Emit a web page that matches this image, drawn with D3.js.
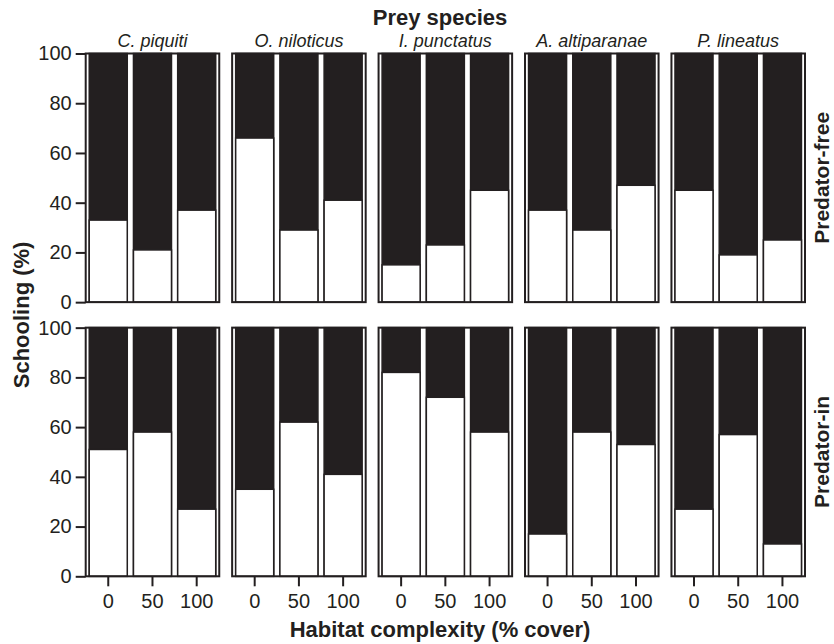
<!DOCTYPE html>
<html>
<head>
<meta charset="utf-8">
<script src="https://cdn.jsdelivr.net/npm/d3@7"></script>
<style>
    body { margin: 0; background: #fff; }
    svg text { font-family: "Liberation Sans", Arial, Helvetica, sans-serif; fill: #231f20; }
</style>
</head>
<body>
<div id="chart"></div>
<script>
// chart values
var species = ["C. piquiti", "O. niloticus", "I. punctatus", "A. altiparanae", "P. lineatus"];
var habitat = ["0", "50", "100"];
var treatments = ["Predator-free", "Predator-in"];
var yTicks = [0, 20, 40, 60, 80, 100];

// % schooling for cover 0, 50, 100 in each species
var predatorFree = [[33, 21, 37], [66, 29, 41], [15, 23, 45], [37, 29, 47], [45, 19, 25]];
var predatorIn = [[51, 58, 27], [35, 62, 41], [82, 72, 58], [17, 58, 53], [27, 57, 13]];

class SchoolingChart {
    constructor(div) {
        var viz = this;

        viz.div = d3.select(div);
        viz.width = 834;
        viz.height = 644;
        viz.ink = "#231f20";

        viz.svg = viz.div.append("svg")
            .attr("width", viz.width)
            .attr("height", viz.height);

        // one band per species column, one per treatment row
        viz.colScale = d3.scaleBand().domain(species).range([85.7, 805]).paddingInner(0.088);
        viz.rowScale = d3.scaleBand().domain(treatments).range([53.5, 576.3]).paddingInner(0.093);

        viz.xScale = d3.scaleBand().domain(habitat)
            .range([0, viz.colScale.bandwidth()])
            .paddingInner(0.14).paddingOuter(0.08);
        viz.yScale = d3.scaleLinear().domain([0, 100]).range([viz.rowScale.bandwidth(), 0]);

        viz.values = { "Predator-free": predatorFree, "Predator-in": predatorIn };

        viz.draw();
    }

    draw() {
        var viz = this;

        treatments.forEach(function(t) {
            species.forEach(function(s, i) {
                viz.drawPanel(viz, t, s, viz.values[t][i]);
            });
        });
        viz.drawLabels(viz);
    }

    drawPanel(viz, treatment, sp, vals) {
        var g = viz.svg.append("g")
            .attr("transform", "translate(" + viz.colScale(sp) + "," + viz.rowScale(treatment) + ")");

        var data = habitat.map(function(h, i) { return { h: h, v: vals[i] }; });

        // dark part is the whole bar, white part is the schooling share
        g.selectAll(".bar-bg").data(data).enter().append("rect")
            .attr("class", "bar-bg")
            .attr("x", d => viz.xScale(d.h))
            .attr("y", viz.yScale(100))
            .attr("width", viz.xScale.bandwidth())
            .attr("height", viz.yScale(0) - viz.yScale(100))
            .attr("fill", viz.ink)
            .attr("stroke", viz.ink)
            .attr("stroke-width", 1.5);

        g.selectAll(".bar").data(data).enter().append("rect")
            .attr("class", "bar")
            .attr("x", d => viz.xScale(d.h))
            .attr("y", d => viz.yScale(d.v))
            .attr("width", viz.xScale.bandwidth())
            .attr("height", d => viz.yScale(0) - viz.yScale(d.v))
            .attr("fill", "#fff")
            .attr("stroke", viz.ink)
            .attr("stroke-width", 1.5);

        g.append("rect")
            .attr("width", viz.colScale.bandwidth())
            .attr("height", viz.rowScale.bandwidth())
            .attr("fill", "none")
            .attr("stroke", viz.ink)
            .attr("stroke-width", 2);

        if (sp === species[0]) {
            var yAxis = d3.axisLeft(viz.yScale).tickValues(yTicks).tickSize(10).tickPadding(4);
            var ya = g.append("g").call(yAxis);
            ya.select(".domain").remove();
            ya.selectAll("line").attr("stroke", viz.ink).attr("stroke-width", 2);
            ya.selectAll("text").style("font-size", "20px").attr("fill", viz.ink);
        }

        if (treatment === treatments[1]) {
            var xAxis = d3.axisBottom(viz.xScale).tickSize(10).tickPadding(8);
            var xa = g.append("g")
                .attr("transform", "translate(0," + viz.rowScale.bandwidth() + ")")
                .call(xAxis);
            xa.select(".domain").remove();
            xa.selectAll("line").attr("stroke", viz.ink).attr("stroke-width", 2);
            xa.selectAll("text").style("font-size", "20px").attr("fill", viz.ink);
        }

        if (treatment === treatments[0]) {
            g.append("text")
                .attr("x", viz.colScale.bandwidth() / 2)
                .attr("y", -7)
                .attr("text-anchor", "middle")
                .style("font-size", "18px")
                .style("font-style", "italic")
                .text(sp);
        }
    }

    drawLabels(viz) {
        viz.svg.append("text")
            .attr("x", 440)
            .attr("y", 25)
            .attr("text-anchor", "middle")
            .style("font-size", "22px")
            .style("font-weight", "bold")
            .text("Prey species");

        viz.svg.append("text")
            .attr("x", 440)
            .attr("y", 637)
            .attr("text-anchor", "middle")
            .style("font-size", "22px")
            .style("font-weight", "bold")
            .text("Habitat complexity (% cover)");

        var mid = (viz.rowScale.range()[0] + viz.rowScale.range()[1]) / 2;
        viz.svg.append("text")
            .attr("transform", "translate(29," + mid + ") rotate(-90)")
            .attr("text-anchor", "middle")
            .style("font-size", "22px")
            .style("font-weight", "bold")
            .text("Schooling (%)");

        treatments.forEach(function(t) {
            var cy = viz.rowScale(t) + viz.rowScale.bandwidth() / 2;
            viz.svg.append("text")
                .attr("transform", "translate(829," + cy + ") rotate(-90)")
                .attr("text-anchor", "middle")
                .style("font-size", "21px")
                .style("font-weight", "bold")
                .text(t);
        });
    }
}

new SchoolingChart("#chart");
</script>
</body>
</html>
